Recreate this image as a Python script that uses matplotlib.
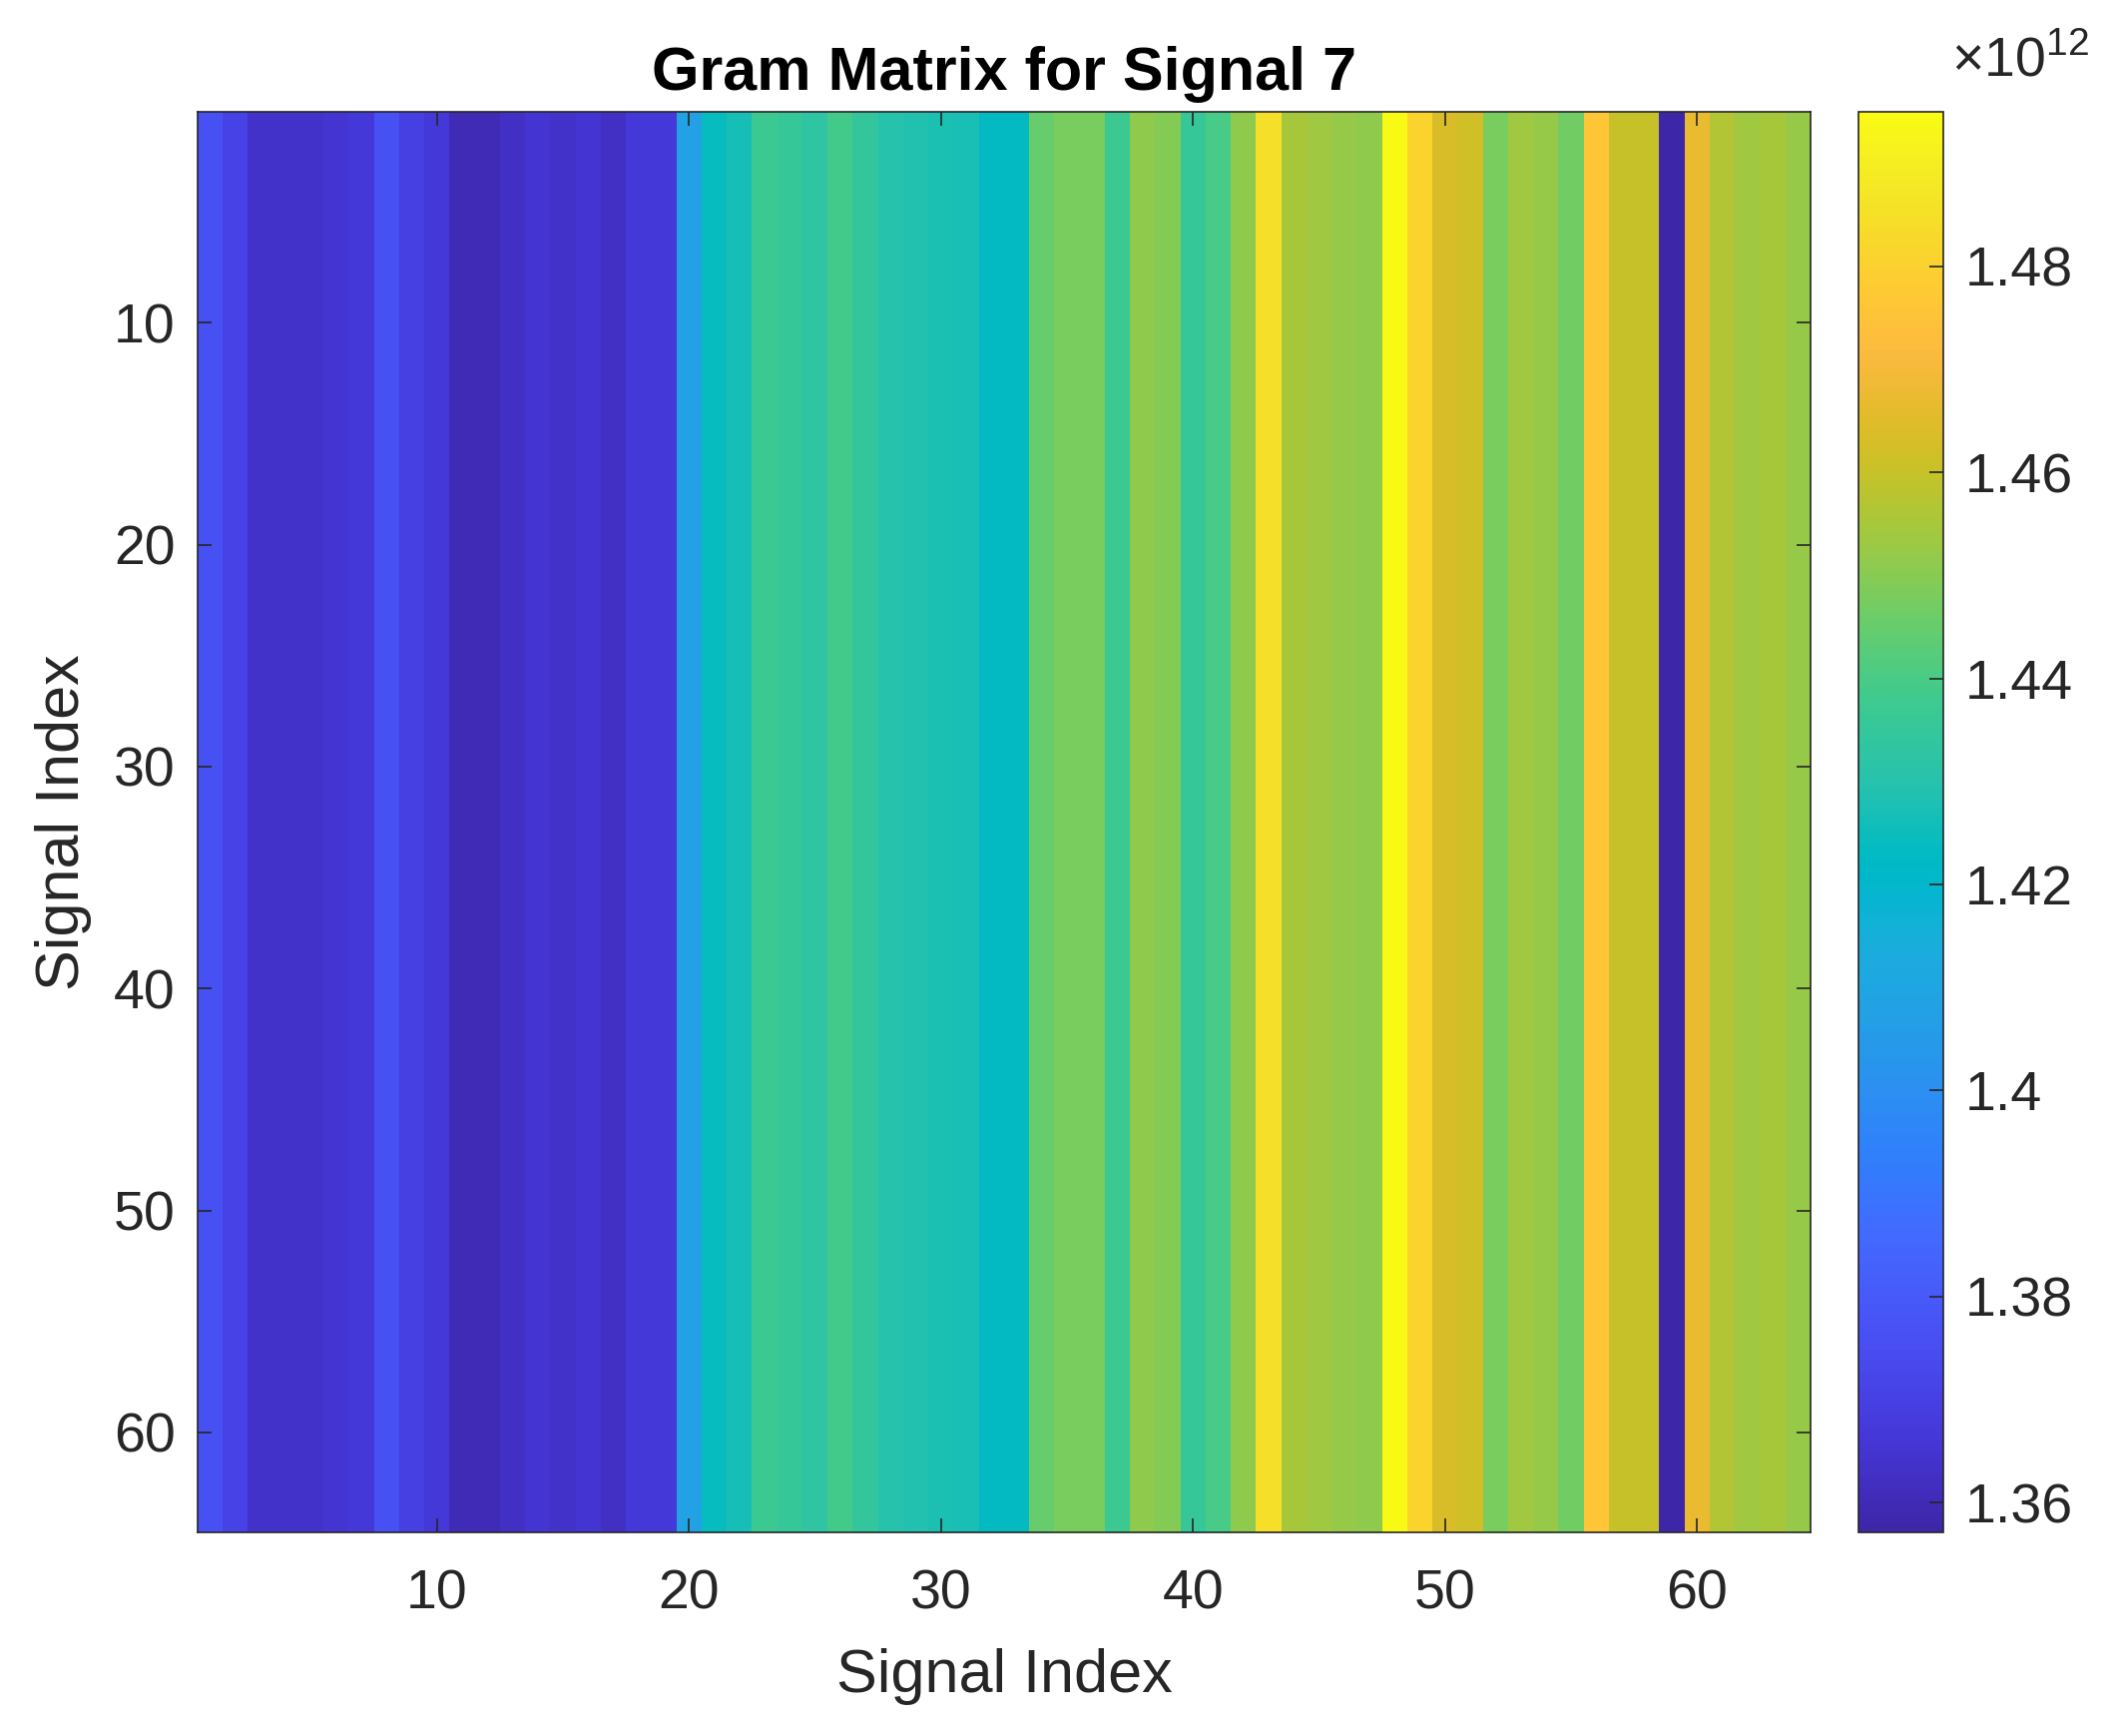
import numpy as np
import matplotlib
matplotlib.use("Agg")
from matplotlib import pyplot as plt
from matplotlib.colors import LinearSegmentedColormap

# MATLAB parula (R2017a+) key colours
parula_rgb = [
    [0.2422, 0.1504, 0.6603], [0.2504, 0.1650, 0.7076], [0.2578, 0.1818, 0.7511], [0.2647, 0.1978, 0.7952],
    [0.2706, 0.2147, 0.8364], [0.2751, 0.2342, 0.8710], [0.2783, 0.2559, 0.8991], [0.2803, 0.2782, 0.9221],
    [0.2813, 0.3006, 0.9414], [0.2810, 0.3228, 0.9579], [0.2795, 0.3447, 0.9717], [0.2760, 0.3667, 0.9829],
    [0.2699, 0.3892, 0.9906], [0.2602, 0.4123, 0.9952], [0.2440, 0.4358, 0.9988], [0.2206, 0.4603, 0.9973],
    [0.1963, 0.4847, 0.9892], [0.1834, 0.5074, 0.9798], [0.1786, 0.5289, 0.9682], [0.1764, 0.5499, 0.9520],
    [0.1687, 0.5703, 0.9359], [0.1540, 0.5902, 0.9218], [0.1460, 0.6091, 0.9079], [0.1380, 0.6276, 0.8973],
    [0.1248, 0.6459, 0.8883], [0.1113, 0.6635, 0.8763], [0.0952, 0.6798, 0.8598], [0.0689, 0.6948, 0.8394],
    [0.0297, 0.7082, 0.8163], [0.0036, 0.7203, 0.7917], [0.0067, 0.7312, 0.7660], [0.0433, 0.7411, 0.7394],
    [0.0964, 0.7500, 0.7120], [0.1408, 0.7584, 0.6842], [0.1717, 0.7670, 0.6554], [0.1938, 0.7758, 0.6251],
    [0.2161, 0.7843, 0.5923], [0.2470, 0.7918, 0.5567], [0.2906, 0.7973, 0.5188], [0.3406, 0.8008, 0.4789],
    [0.3909, 0.8029, 0.4354], [0.4456, 0.8024, 0.3909], [0.5044, 0.7993, 0.3480], [0.5616, 0.7942, 0.3045],
    [0.6174, 0.7876, 0.2612], [0.6720, 0.7793, 0.2227], [0.7242, 0.7698, 0.1910], [0.7738, 0.7598, 0.1646],
    [0.8203, 0.7498, 0.1535], [0.8634, 0.7406, 0.1596], [0.9035, 0.7330, 0.1774], [0.9393, 0.7288, 0.2100],
    [0.9728, 0.7298, 0.2394], [0.9956, 0.7434, 0.2371], [0.9970, 0.7659, 0.2199], [0.9952, 0.7893, 0.2028],
    [0.9892, 0.8136, 0.1885], [0.9786, 0.8386, 0.1766], [0.9676, 0.8639, 0.1643], [0.9610, 0.8890, 0.1537],
    [0.9597, 0.9135, 0.1423], [0.9628, 0.9373, 0.1265], [0.9691, 0.9606, 0.1064], [0.9769, 0.9839, 0.0805],
]
parula = LinearSegmentedColormap.from_list("parula", parula_rgb, N=256)

# Gram values per column (x 1e12), every row identical
n_signals = 64
col_vals_e12 = [
    1.3764, 1.3709, 1.3640, 1.3640, 1.3640, 1.3654, 1.3668, 1.3764,  # 1-8
    1.3695, 1.3668, 1.3599, 1.3599, 1.3626, 1.3654, 1.3640, 1.3654,  # 9-16
    1.3626, 1.3668, 1.3668, 1.4082, 1.4240, 1.4268, 1.4371, 1.4357,  # 17-24
    1.4330, 1.4385, 1.4343, 1.4302, 1.4288, 1.4280, 1.4274, 1.4233,  # 25-32
    1.4233, 1.4454, 1.4481, 1.4481, 1.4371, 1.4509, 1.4495, 1.4357,  # 33-40
    1.4398, 1.4509, 1.4853, 1.4550, 1.4536, 1.4523, 1.4509, 1.4950,  # 41-48
    1.4812, 1.4633, 1.4619, 1.4481, 1.4536, 1.4523, 1.4467, 1.4757,  # 49-56
    1.4605, 1.4605, 1.3571, 1.4674, 1.4564, 1.4536, 1.4550, 1.4523,  # 57-64
]
ticks = [10, 20, 30, 40, 50, 60]
cbar_ticks = [1.36, 1.38, 1.40, 1.42, 1.44, 1.46, 1.48]

gram = np.tile(np.array(col_vals_e12), (n_signals, 1))

plt.rcParams['font.family'] = ['Liberation Sans', 'DejaVu Sans']
plt.rcParams['mathtext.fontset'] = 'custom'
plt.rcParams['mathtext.rm'] = 'Liberation Sans'

fig = plt.figure(figsize=(2113 / 200, 1739 / 200), dpi=200)
ax = fig.add_axes([198 / 2113, 1 - 1535 / 1739, (1814 - 198) / 2113, (1535 - 112) / 1739])
cax = fig.add_axes([1862 / 2113, 1 - 1535 / 1739, 85 / 2113, (1535 - 112) / 1739])

im = ax.imshow(gram, cmap=parula, aspect='auto', interpolation='nearest',
               extent=(0.5, n_signals + 0.5, n_signals + 0.5, 0.5),
               vmin=min(col_vals_e12), vmax=max(col_vals_e12))

ax.set_xticks(ticks)
ax.set_yticks(ticks)
ax.tick_params(direction='in', length=5, width=0.6, labelsize=20, top=True, right=True,
               color='#262626', labelcolor='#262626')
ax.tick_params(axis='x', pad=13)
ax.tick_params(axis='y', pad=8)
for s in ax.spines.values():
    s.set_linewidth(0.6)
    s.set_color('#262626')
ax.set_xlabel('Signal Index', fontsize=22, color='#262626', labelpad=10)
ax.set_ylabel('Signal Index', fontsize=22, color='#262626', labelpad=8)
ax.set_title('Gram Matrix for Signal 7', fontsize=22, fontweight='bold', pad=8)

cb = fig.colorbar(im, cax=cax)
cb.set_ticks(cbar_ticks)
cb.set_ticklabels([f"{t:g}" for t in cbar_ticks])
cax.tick_params(direction='in', length=5, width=0.6, labelsize=20, color='#262626',
                labelcolor='#262626', pad=8)
cb.outline.set_linewidth(0.6)
cb.outline.set_edgecolor('#262626')
fig.text(1955 / 2113, 1 - 62 / 1739, r'$\times10^{12}$', fontsize=20, color='#262626',
         ha='left', va='center')

fig.savefig('out.png', dpi=200, facecolor='white')
